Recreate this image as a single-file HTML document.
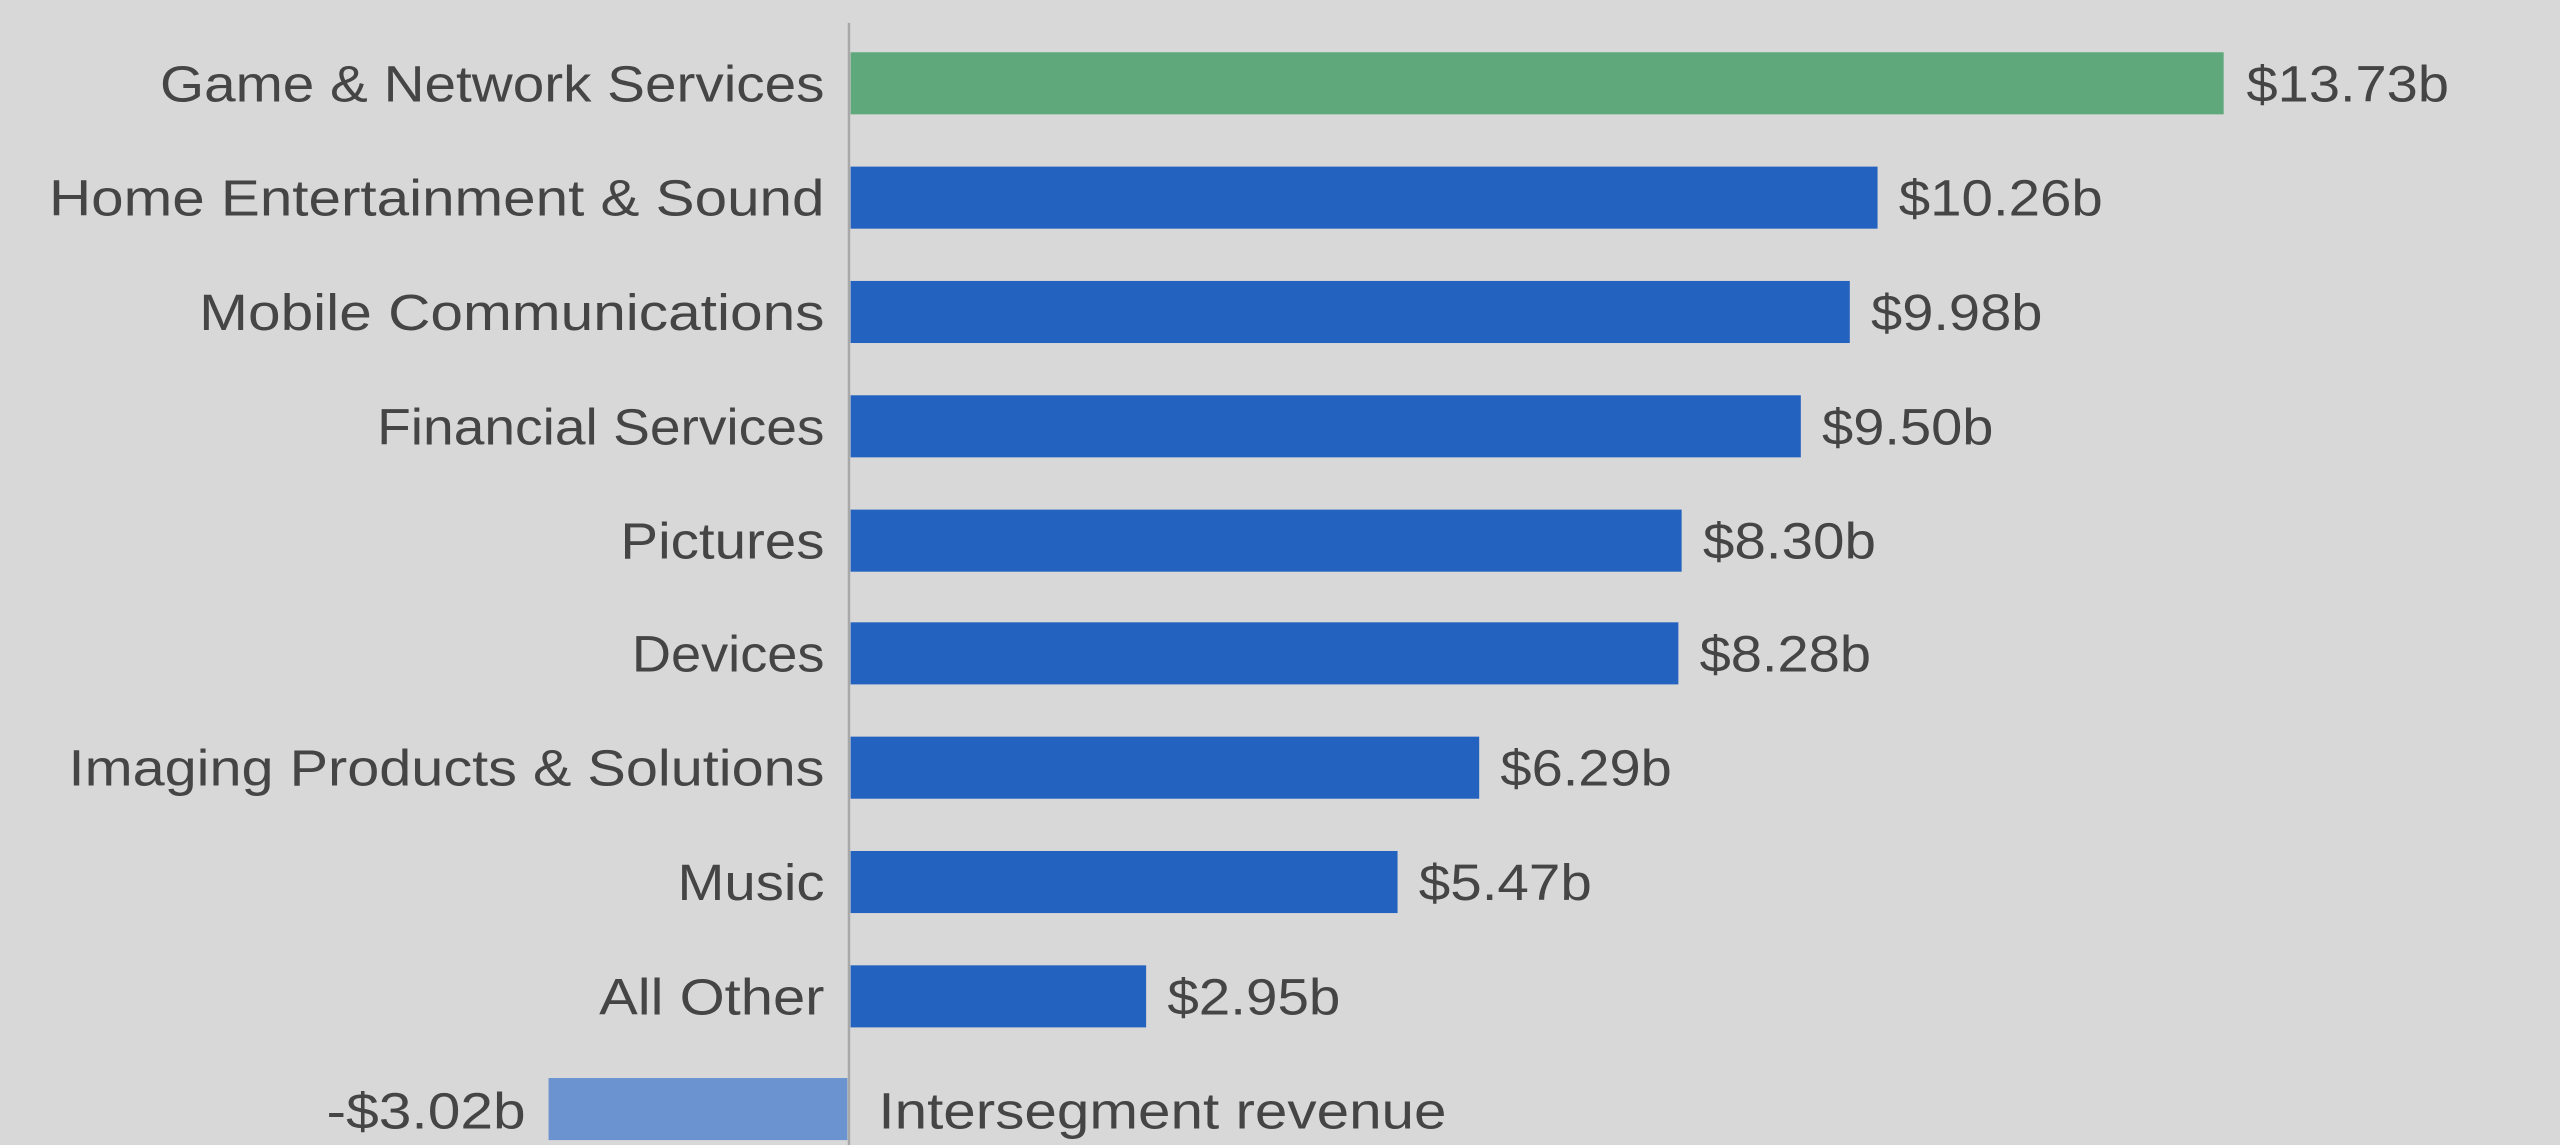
<!DOCTYPE html>
<html><head><meta charset="utf-8"><style>
html,body{margin:0;padding:0;background:#d8d8d8;}
svg{display:block;}
text{font-family:"Liberation Sans",sans-serif;fill:#454545;font-size:31px;}
</style></head><body>
<svg width="2560" height="1145" viewBox="0 0 1568 701" preserveAspectRatio="none" xmlns="http://www.w3.org/2000/svg">
<rect width="1568" height="701" fill="#d8d8d8"/>
<line x1="520" y1="14" x2="520" y2="701" stroke="#a8a8a8" stroke-width="1.5"/>
<rect x="521" y="32" width="841" height="38" fill="#5fa87c"/>
<rect x="521" y="102" width="629" height="38" fill="#2462bf"/>
<rect x="521" y="172" width="612" height="38" fill="#2462bf"/>
<rect x="521" y="242" width="582" height="38" fill="#2462bf"/>
<rect x="521" y="312" width="509" height="38" fill="#2462bf"/>
<rect x="521" y="381" width="507" height="38" fill="#2462bf"/>
<rect x="521" y="451" width="385" height="38" fill="#2462bf"/>
<rect x="521" y="521" width="335" height="38" fill="#2462bf"/>
<rect x="521" y="591" width="181" height="38" fill="#2462bf"/>
<rect x="336" y="660" width="183" height="38" fill="#6a93cf"/>
<g text-anchor="start">
<text x="98" y="62" textLength="407" lengthAdjust="spacingAndGlyphs">Game &amp; Network Services</text>
<text x="30" y="132" textLength="475" lengthAdjust="spacingAndGlyphs">Home Entertainment &amp; Sound</text>
<text x="122" y="202" textLength="383" lengthAdjust="spacingAndGlyphs">Mobile Communications</text>
<text x="231" y="272" textLength="274" lengthAdjust="spacingAndGlyphs">Financial Services</text>
<text x="380" y="342" textLength="125" lengthAdjust="spacingAndGlyphs">Pictures</text>
<text x="387" y="411" textLength="118" lengthAdjust="spacingAndGlyphs">Devices</text>
<text x="42" y="481" textLength="463" lengthAdjust="spacingAndGlyphs">Imaging Products &amp; Solutions</text>
<text x="415" y="551" textLength="90" lengthAdjust="spacingAndGlyphs">Music</text>
<text x="367" y="621" textLength="138" lengthAdjust="spacingAndGlyphs">All Other</text>
<text x="200" y="691" textLength="122" lengthAdjust="spacingAndGlyphs">-$3.02b</text>
<text x="538" y="691" textLength="348" lengthAdjust="spacingAndGlyphs">Intersegment revenue</text>
<text x="1376" y="62" textLength="124" lengthAdjust="spacingAndGlyphs">$13.73b</text>
<text x="1163" y="132" textLength="125" lengthAdjust="spacingAndGlyphs">$10.26b</text>
<text x="1146" y="202" textLength="105" lengthAdjust="spacingAndGlyphs">$9.98b</text>
<text x="1116" y="272" textLength="105" lengthAdjust="spacingAndGlyphs">$9.50b</text>
<text x="1043" y="342" textLength="106" lengthAdjust="spacingAndGlyphs">$8.30b</text>
<text x="1041" y="411" textLength="105" lengthAdjust="spacingAndGlyphs">$8.28b</text>
<text x="919" y="481" textLength="105" lengthAdjust="spacingAndGlyphs">$6.29b</text>
<text x="869" y="551" textLength="106" lengthAdjust="spacingAndGlyphs">$5.47b</text>
<text x="715" y="621" textLength="106" lengthAdjust="spacingAndGlyphs">$2.95b</text>
</g>
</svg>
</body></html>
